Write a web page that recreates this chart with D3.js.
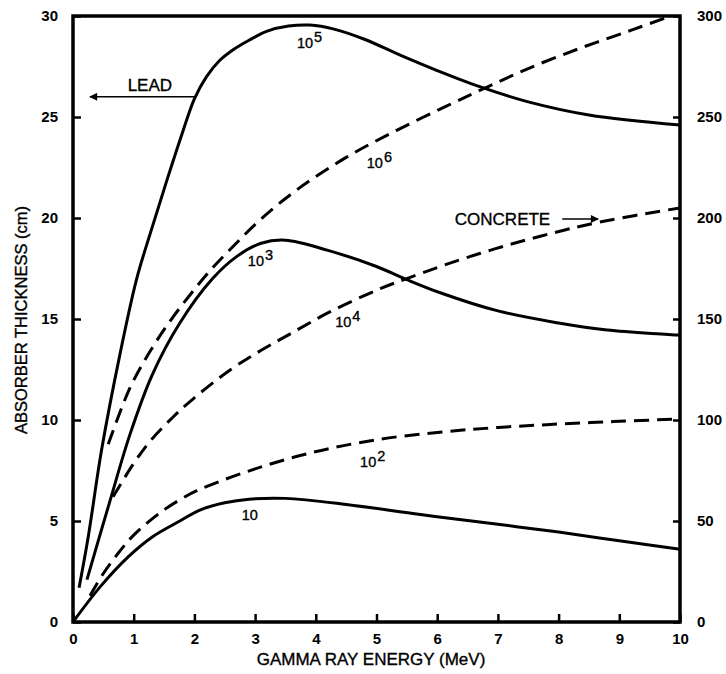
<!DOCTYPE html>
<html>
<head>
<meta charset="utf-8">
<script src="https://cdn.jsdelivr.net/npm/d3@7/dist/d3.min.js"></script>
<style>
  body { margin: 0; background: #fff; }
  svg { display: block; }
  text { font-family: 'Liberation Sans', Arial, sans-serif; fill: #000; }
</style>
</head>
<body>
<svg id="chart" width="726" height="674"></svg>
<script>
// DATA
const energyTicks = [0, 1, 2, 3, 4, 5, 6, 7, 8, 9, 10];
const leadTicks = [0, 5, 10, 15, 20, 25, 30];
const concreteTicks = [0, 50, 100, 150, 200, 250, 300];

// lead curves: [MeV, cm] on the left axis
const lead10 = [[0, 0], [0.45, 1.75], [0.9, 3.2], [1.3, 4.2], [1.76, 5.0], [2.1, 5.55], [2.5, 5.9],
  [2.9, 6.08], [3.5, 6.12], [4.5, 5.82], [5.6, 5.37], [6.7, 4.95], [8.0, 4.45], [9.0, 4.02], [10, 3.6]];
const lead1e3 = [[0.23, 2.1], [0.6, 5.9], [0.94, 9.3], [1.3, 12.2], [1.76, 14.8], [2.3, 17.0], [2.7, 18.1],
  [3.1, 18.75], [3.5, 18.9], [4.2, 18.4], [5.0, 17.6], [5.5, 16.95], [6.05, 16.3], [7.0, 15.4],
  [8.0, 14.8], [8.8, 14.45], [10, 14.2]];
const lead1e5 = [[0.1, 1.7], [0.25, 4.2], [0.47, 8.5], [0.77, 13.2], [1.05, 17.0], [1.3, 19.5], [1.55, 21.9],
  [1.8, 24.2], [2.0, 25.9], [2.2, 27.0], [2.4, 27.75], [2.65, 28.35], [2.9, 28.8], [3.2, 29.25],
  [3.55, 29.5], [3.9, 29.55], [4.3, 29.35], [4.8, 28.85], [5.4, 28.05], [6.0, 27.3], [6.7, 26.5],
  [7.5, 25.75], [8.5, 25.1], [10, 24.6]];

// concrete curves: [MeV, cm] on the right axis
const concrete1e2 = [[0.28, 13], [0.5, 24], [0.77, 35], [1.0, 43], [1.43, 54], [1.76, 60.5], [2.04, 65],
  [2.87, 74.5], [3.95, 84], [5.06, 90.5], [6.16, 94.3], [7.0, 96.3], [7.8, 97.7], [8.9, 99.2], [10, 100.5]];
const concrete1e4 = [[0.66, 62], [0.99, 78], [1.27, 89.5], [1.65, 101.5], [1.98, 110.5], [2.6, 125],
  [3.1, 134.5], [3.6, 143], [4.23, 153.5], [5.06, 165], [5.5, 170], [6.1, 176.5], [6.87, 184],
  [7.7, 191], [8.68, 198], [10, 205]];
const concrete1e6 = [[0.58, 88], [0.94, 116], [1.27, 134], [1.6, 149], [1.93, 162], [2.26, 174], [2.64, 186],
  [3.08, 199], [3.69, 214], [4.5, 230], [5.34, 243.5], [6.16, 255.5], [6.8, 264.5], [7.5, 274],
  [8.35, 284], [9.2, 293], [9.85, 300]];

// curve labels: base, exponent, anchor [MeV, left-axis cm]
const curveLabels = [
  ['10', '', [2.78, 5.05]],
  ['10', '2', [4.73, 7.67]],
  ['10', '3', [2.88, 17.6]],
  ['10', '4', [4.32, 14.6]],
  ['10', '5', [3.69, 28.4]],
  ['10', '6', [4.84, 22.5]]
];

// SETUP
let svg = d3.select('svg'),
  margin = { top: 16, right: 46, bottom: 52, left: 73 },
  width = +svg.attr('width') - margin.left - margin.right,
  height = +svg.attr('height') - margin.top - margin.bottom;

let x = d3.scaleLinear().domain([0, 10]).range([0, width]),
  yLead = d3.scaleLinear().domain([0, 30]).range([height, 0]),
  yConc = d3.scaleLinear().domain([0, 300]).range([height, 0]);

// ARROW HEAD
svg.append('defs')
  .append('marker')
  .attr('id', 'arrow')
  .attr('viewBox', '0 0 10 10')
  .attr('refX', 9).attr('refY', 5)
  .attr('markerWidth', 9).attr('markerHeight', 8)
  .attr('markerUnits', 'userSpaceOnUse')
  .attr('orient', 'auto')
  .append('path')
  .attr('d', 'M0,0L10,5L0,10Z')
  .attr('fill', '#000');

let g = svg.append('g')
  .attr('transform', 'translate(' + margin.left + ',' + margin.top + ')');

// AXES
let font = 'Liberation Sans, Arial, sans-serif';

let xAxis = g.append('g')
  .attr('transform', 'translate(0,' + height + ')')
  .call(d3.axisBottom(x).tickValues(energyTicks).tickSizeInner(-8).tickSizeOuter(0).tickPadding(11));

let yAxisL = g.append('g')
  .call(d3.axisLeft(yLead).tickValues(leadTicks).tickSizeInner(-8).tickSizeOuter(0).tickPadding(15));

let yAxisR = g.append('g')
  .attr('transform', 'translate(' + width + ',0)')
  .call(d3.axisRight(yConc).tickValues(concreteTicks).tickSizeInner(-7).tickSizeOuter(0).tickPadding(17));

[xAxis, yAxisL, yAxisR].forEach(a => {
  a.select('.domain').remove();
  a.selectAll('.tick line').attr('stroke', '#000').attr('stroke-width', 2.5);
  a.selectAll('.tick text')
    .attr('font-family', font)
    .attr('font-size', 15)
    .attr('font-weight', 'bold')
    .attr('fill', '#000');
});

// FRAME
g.append('rect')
  .attr('width', width)
  .attr('height', height)
  .attr('fill', 'none')
  .attr('stroke', '#000')
  .attr('stroke-width', 3.5);

// plain text gets a thin stroke, the scan is a bit heavier than regular weight
function heavy(sel) {
  return sel.attr('stroke', '#000').attr('stroke-width', 0.35);
}

// AXIS TITLES
heavy(g.append('text'))
  .attr('x', 371 - margin.left)
  .attr('y', height + 43)
  .attr('text-anchor', 'middle')
  .attr('font-size', 17)
  .text('GAMMA RAY ENERGY (MeV)');

heavy(g.append('text'))
  .attr('transform', 'translate(' + (27 - margin.left) + ',' + (height / 2 + 1) + ') rotate(-90)')
  .attr('text-anchor', 'middle')
  .attr('font-size', 16.5)
  .text('ABSORBER THICKNESS (cm)');

// CURVES
let leadLine = d3.line()
  .x(d => x(d[0]))
  .y(d => yLead(d[1]))
  .curve(d3.curveCatmullRom.alpha(0.5));

let concLine = d3.line()
  .x(d => x(d[0]))
  .y(d => yConc(d[1]))
  .curve(d3.curveCatmullRom.alpha(0.5));

[lead10, lead1e3, lead1e5].forEach(d => {
  g.append('path')
    .datum(d)
    .attr('d', leadLine)
    .attr('fill', 'none')
    .attr('stroke', '#000')
    .attr('stroke-width', 3);
});

[concrete1e2, concrete1e4, concrete1e6].forEach(d => {
  g.append('path')
    .datum(d)
    .attr('d', concLine)
    .attr('fill', 'none')
    .attr('stroke', '#000')
    .attr('stroke-width', 3)
    .attr('stroke-dasharray', '15,8');
});

// CURVE LABELS
curveLabels.forEach(l => {
  let t = heavy(g.append('text'))
    .attr('x', x(l[2][0]))
    .attr('y', yLead(l[2][1]))
    .attr('font-size', 14.5)
    .text(l[0]);
  if (l[1]) {
    t.append('tspan')
      .attr('dy', -6)
      .attr('dx', 1)
      .text(l[1]);
  }
});

// LEAD / CONCRETE MARKERS
heavy(g.append('text'))
  .attr('x', x(0.9))
  .attr('y', yLead(26.3))
  .attr('font-size', 17)
  .text('LEAD');

g.append('line')
  .attr('x1', x(2.0)).attr('y1', yLead(26.0))
  .attr('x2', x(0.28)).attr('y2', yLead(26.0))
  .attr('stroke', '#000')
  .attr('stroke-width', 1.5)
  .attr('marker-end', 'url(#arrow)');

heavy(g.append('text'))
  .attr('x', x(6.29))
  .attr('y', yLead(19.65))
  .attr('font-size', 17)
  .text('CONCRETE');

g.append('line')
  .attr('x1', x(8.06)).attr('y1', yLead(19.95))
  .attr('x2', x(8.65)).attr('y2', yLead(19.95))
  .attr('stroke', '#000')
  .attr('stroke-width', 1.5)
  .attr('marker-end', 'url(#arrow)');
</script>
</body>
</html>
